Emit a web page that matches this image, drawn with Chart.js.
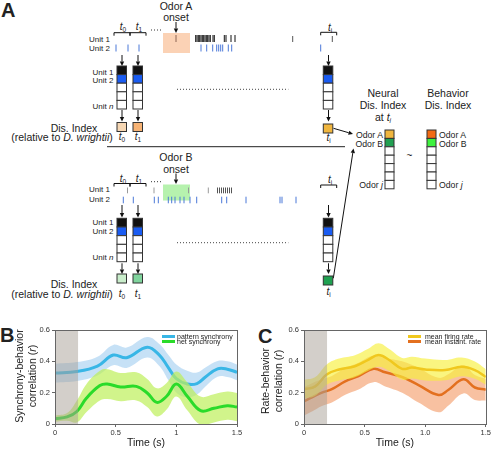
<!DOCTYPE html>
<html>
<head>
<meta charset="utf-8">
<script src="https://cdn.jsdelivr.net/npm/chart.js@4.4.0/dist/chart.umd.min.js"></script>
<style>
body { margin: 0; background: #fff; }
#page { position: relative; width: 492px; height: 450px; overflow: hidden; font-family: "Liberation Sans", Arial, sans-serif; color: #222; }
#panelA { position: absolute; left: 0; top: 0; }
canvas { position: absolute; }
.ytitle { position: absolute; width: 130px; text-align: center; font-size: 10.5px; line-height: 13px; white-space: nowrap; transform: translate(-50%, -50%) rotate(-90deg); }
.letter { position: absolute; font-weight: bold; font-size: 20px; line-height: 20px; }
.sw { position: absolute; width: 13px; height: 3px; }
.lt { position: absolute; font-size: 7px; line-height: 7px; white-space: nowrap; color: #222; }
</style>
</head>
<body>
<div id="page">
  <svg id="panelA" width="492" height="320"></svg>

  <div class="letter" style="left:1px;top:0px">A</div>
  <div class="letter" style="left:0px;top:325px">B</div>
  <div class="letter" style="left:258px;top:326px">C</div>

  <canvas id="chartB" width="245" height="130" style="left:0;top:320px"></canvas>
  <canvas id="chartC" width="243" height="130" style="left:249px;top:320px"></canvas>

  <div class="ytitle" style="left:26px;top:376px">Synchrony-behavior<br>correlation (<i>r</i>)</div>
  <div class="ytitle" style="left:272px;top:381px">Rate-behavior<br>correlation (<i>r</i>)</div>

  <div class="sw" style="left:162px;top:335px;background:#38b6e6"></div>
  <div class="lt" style="left:177px;top:333px">pattern synchrony</div>
  <div class="sw" style="left:162px;top:340.4px;background:#2adb2a"></div>
  <div class="lt" style="left:177px;top:338.4px">net synchrony</div>

  <div class="sw" style="left:408px;top:334.5px;background:#f0c81e"></div>
  <div class="lt" style="left:425px;top:332.5px">mean firing rate</div>
  <div class="sw" style="left:408px;top:340px;background:#e3701f"></div>
  <div class="lt" style="left:425px;top:338px">mean instant. rate</div>
</div>

<script>
// panel B: synchrony-behavior correlation
const patternTime = [0, 0.18, 0.35, 0.48, 0.59, 0.76, 0.86, 0.93, 1.0, 1.09, 1.17, 1.24, 1.34, 1.42, 1.5];
const patternSync = [0.325, 0.335, 0.37, 0.44, 0.423, 0.49, 0.44, 0.365, 0.29, 0.255, 0.258, 0.30, 0.352, 0.35, 0.33];
const patternErr = [0.06, 0.06, 0.06, 0.065, 0.065, 0.065, 0.07, 0.08, 0.09, 0.085, 0.07, 0.06, 0.05, 0.05, 0.05];

const netTime = [0, 0.1, 0.18, 0.26, 0.37, 0.43, 0.54, 0.67, 0.76, 0.84, 0.92, 1.0, 1.09, 1.2, 1.31, 1.42, 1.5];
const netSync = [0.034, 0.045, 0.08, 0.166, 0.245, 0.255, 0.236, 0.24, 0.198, 0.138, 0.177, 0.255, 0.177, 0.085, 0.10, 0.117, 0.108];
const netErr = [0.02, 0.025, 0.07, 0.09, 0.095, 0.095, 0.09, 0.09, 0.09, 0.09, 0.085, 0.08, 0.09, 0.09, 0.09, 0.09, 0.09];

// panel C: rate-behavior correlation
const firingTime = [0, 0.093, 0.19, 0.29, 0.42, 0.53, 0.615, 0.70, 0.81, 0.89, 1.0, 1.165, 1.30, 1.41, 1.5];
const firingRate = [0.222, 0.24, 0.317, 0.348, 0.369, 0.41, 0.44, 0.41, 0.352, 0.36, 0.348, 0.344, 0.365, 0.344, 0.30];
const firingErr = [0.06, 0.06, 0.065, 0.07, 0.07, 0.07, 0.075, 0.07, 0.07, 0.07, 0.07, 0.065, 0.06, 0.055, 0.05];

const instantTime = [0, 0.066, 0.148, 0.23, 0.34, 0.45, 0.574, 0.67, 0.81, 0.945, 1.11, 1.19, 1.315, 1.41, 1.5];
const instantRate = [0.145, 0.17, 0.20, 0.222, 0.272, 0.306, 0.352, 0.33, 0.30, 0.248, 0.185, 0.217, 0.285, 0.233, 0.219];
const instantErr = [0.09, 0.09, 0.085, 0.085, 0.085, 0.085, 0.085, 0.09, 0.1, 0.11, 0.11, 0.1, 0.09, 0.08, 0.07];

const baselineWindow = [0, 0.19];
const corrTickValues = [0, 0.2, 0.4, 0.6];
const corrTicks = ["0", "0.2", "0.4", "0.6"];
const timeTickValues = [0, 0.5, 1, 1.5];
const timeTicksB = ["0", "0.5", "1", "1.5"];
const timeTicksC = ["0", "0.5", "1.0", "1.5"];

const FONT = '"Liberation Sans", Arial, sans-serif';

function pts(t, v, e, sign) {
    return t.map((x, i) => ({ x: x, y: v[i] + (e ? sign * e[i] : 0) }));
}

function meanLine(t, v, color, w) {
    return { data: pts(t, v), borderColor: color, borderWidth: w, pointRadius: 0, tension: 0.4, fill: false };
}

function band(t, v, e, color) {
    return [
        { data: pts(t, v, e, 1), borderWidth: 0, pointRadius: 0, tension: 0.4, fill: "+1", backgroundColor: color },
        { data: pts(t, v, e, -1), borderWidth: 0, pointRadius: 0, tension: 0.4, fill: false }
    ];
}

const shadeAndFrame = {
    id: "shadeAndFrame",
    afterDatasetsDraw(chart) {
        const { ctx, chartArea: a, scales } = chart;
        const x0 = scales.x.getPixelForValue(baselineWindow[0]);
        const x1 = scales.x.getPixelForValue(baselineWindow[1]);
        ctx.save();
        ctx.fillStyle = "rgba(168,160,150,0.5)";
        ctx.fillRect(x0, a.top, x1 - x0, a.bottom - a.top);
        ctx.strokeStyle = "#666";
        ctx.lineWidth = 1;
        ctx.strokeRect(Math.round(a.left) + 0.5, Math.round(a.top) + 0.5, Math.round(a.right - a.left), Math.round(a.bottom - a.top));
        ctx.restore();
    }
};

function makeChart(id, datasets, timeLabels, padRight) {
    return new Chart(document.getElementById(id), {
        type: "line",
        data: { datasets },
        plugins: [shadeAndFrame],
        options: {
            responsive: false,
            animation: false,
            layout: { padding: { top: 10, right: padRight, left: 0, bottom: 0 } },
            plugins: { legend: { display: false }, tooltip: { enabled: false } },
            scales: {
                x: {
                    type: "linear", min: 0, max: 1.5,
                    afterBuildTicks: s => { s.ticks = timeTickValues.map(v => ({ value: v })); },
                    ticks: { maxRotation: 0, padding: 1, color: "#333", font: { size: 7.5, family: FONT },
                        callback: (v, i) => timeLabels[i] },
                    grid: { drawOnChartArea: false, tickLength: 3, color: "#666" },
                    border: { display: false },
                    title: { display: true, text: "Time (s)", color: "#222", font: { size: 10.5, family: FONT }, padding: { top: 0, bottom: 1 } },
                    afterFit: s => { s.height = 26; }
                },
                y: {
                    min: 0, max: 0.6,
                    afterBuildTicks: s => { s.ticks = corrTickValues.map(v => ({ value: v })); },
                    ticks: { padding: 2, color: "#333", font: { size: 7.5, family: FONT },
                        callback: (v, i) => corrTicks[i] },
                    grid: { drawOnChartArea: false, tickLength: 3, color: "#666" },
                    border: { display: false },
                    afterFit: s => { s.width = 55; }
                }
            }
        }
    });
}

makeChart("chartB", [
    meanLine(netTime, netSync, "#2adb2a", 3),
    ...band(netTime, netSync, netErr, "rgba(190,240,90,0.7)"),
    meanLine(patternTime, patternSync, "#38b6e6", 3),
    ...band(patternTime, patternSync, patternErr, "rgba(160,205,240,0.6)")
], timeTicksB, 8);

makeChart("chartC", [
    meanLine(firingTime, firingRate, "#f0c81e", 2.5),
    ...band(firingTime, firingRate, firingErr, "rgba(248,240,60,0.65)"),
    meanLine(instantTime, instantRate, "#e3701f", 2.5),
    ...band(instantTime, instantRate, instantErr, "rgba(245,160,110,0.65)")
], timeTicksC, 6);

// ---- panel A schematic ----
let s = "";
const ln = (x1, y1, x2, y2, c = "#111", w = 1, extra = "") =>
    s += `<line x1="${x1}" y1="${y1}" x2="${x2}" y2="${y2}" stroke="${c}" stroke-width="${w}" ${extra}/>`;
const tx = (x, y, content, size, anchor = "middle") =>
    s += `<text x="${x}" y="${y}" font-size="${size}" text-anchor="${anchor}" fill="#222">${content}</text>`;
const rect = (x, y, w, h, fill, stroke = "none") =>
    s += `<rect x="${x}" y="${y}" width="${w}" height="${h}" fill="${fill}" stroke="${stroke}" stroke-width="1"/>`;
const arrow = (x1, y1, x2, y2) => {
    const a = Math.atan2(y2 - y1, x2 - x1), L = 4.5, W = 2.2;
    const bx = x2 - L * Math.cos(a), by = y2 - L * Math.sin(a);
    ln(x1, y1, bx, by);
    s += `<polygon points="${x2},${y2} ${bx - W * Math.sin(a)},${by + W * Math.cos(a)} ${bx + W * Math.sin(a)},${by - W * Math.cos(a)}" fill="#111"/>`;
};
const spikes = (xs, y1, y2, c) => xs.forEach(x => ln(x, y1, x, y2, c, 1));
const bracket = (x1, x2, y) => s += `<path d="M${x1},${y + 3}V${y}H${x2}V${y + 3}" fill="none" stroke="#111" stroke-width="1"/>`;
const column = (x, y, w, h, fills) => fills.forEach((f, i) => rect(x, y + i * h, w, h, f, "#333"));
const tsub = idx => `<tspan font-style="italic">t</tspan><tspan font-size="6.5" dy="2">${idx}</tspan>`;
const dotted = 'stroke-dasharray="1 2"';
const unitFills = ["#111", "#1a5cf2", "#fff", "#fff", "#fff"];

const topUnit1 = [195.7, 197, 198.3, 199.7, 201, 202.3, 203.7, 205, 206.3, 207.7, 209, 210.3, 213, 214.3, 224.3, 226, 231, 235];
const topUnit2 = [116, 128, 139, 201, 206.7, 212.7, 216.7, 218.7, 220.7, 222.7, 228.3, 231.7, 320.7];
const botUnit1 = [127.5, 154, 188.5, 208.3];
const botBurst = [217.5, 219.5, 221.5, 223.5, 225.5, 227.5, 229.5, 231.5];
const botUnit2 = [123.3, 133.3, 154.3, 158.3, 168.3, 171.7, 175, 180, 184, 190, 196.7, 221.7, 226.7, 246, 280, 282, 296];

// top: odor A
tx(176, 10, "Odor A", 10.5); tx(176, 20.7, "onset", 10.5);
arrow(176, 22, 176, 33);
bracket(114, 130, 32.7); bracket(130, 146, 32.7);
tx(123, 30, tsub("0"), 10); tx(139, 30, tsub("1"), 10);
ln(151, 30, 163, 30, "#333", 1, dotted);
tx(110, 41.5, "Unit 1", 8, "end"); tx(110, 51, "Unit 2", 8, "end");
rect(163, 33, 27, 20, "#fbd2b5");
spikes([176], 35, 42, "#8c6552");
spikes(topUnit1, 35, 42, "#111");
spikes([292.7, 332.3], 36, 42, "#555");
spikes(topUnit2, 44.5, 51.5, "#4a78d8");
bracket(320.7, 336.7, 32.3); tx(330, 30.7, tsub("i"), 10);
[122, 138, 328.5].forEach(x => { arrow(x, 55, x, 66); arrow(x, 110, x, 121.5); });
[117, 133, 323.3].forEach(x => column(x, 66, 9.5, 8.6, unitFills));
tx(113.5, 75, "Unit 1", 8, "end"); tx(113.5, 83.3, "Unit 2", 8, "end");
tx(113.5, 109, 'Unit <tspan font-style="italic">n</tspan>', 8, "end");
ln(177, 89.3, 288.3, 89.3, "#444", 1, dotted);
rect(117, 122.5, 9.5, 9, "#f6d7b4", "#333");
rect(133, 122.5, 9.5, 9, "#f7b375", "#333");
rect(323.3, 124, 9.5, 9, "#f0b63f", "#333");
tx(122, 140, tsub("0"), 10); tx(138, 140, tsub("1"), 10); tx(328.5, 141, tsub("i"), 10);
tx(74, 132, "Dis. Index", 10.5);
tx(62, 140.5, '(relative to <tspan font-style="italic">D. wrightii</tspan>)', 10.5);
ln(107, 146.7, 345, 146.7, "#222", 1);

// right: neural vs behavior index
tx(383, 96.7, "Neural", 10.5); tx(383, 109.3, "Dis. Index", 10.5);
tx(383, 120.5, 'at <tspan font-style="italic">t</tspan><tspan font-size="6.5" dy="2" font-style="italic">i</tspan>', 10.5);
tx(448, 96.7, "Behavior", 10.5); tx(448, 109.3, "Dis. Index", 10.5);
arrow(333.5, 128.3, 353, 134);
column(385, 130, 9, 8.4, ["#f0b63f", "#22a052", "#fff", "#fff", "#fff", "#fff", "#fff"]);
column(427, 130, 9, 8.4, ["#f26b14", "#3ef23e", "#fff", "#fff", "#fff", "#fff", "#fff"]);
tx(383, 138.3, "Odor A", 8.7, "end"); tx(383, 147.3, "Odor B", 8.7, "end");
tx(383, 188, 'Odor <tspan font-style="italic">j</tspan>', 8.7, "end");
tx(439, 138.3, "Odor A", 8.7, "start"); tx(439, 147.3, "Odor B", 8.7, "start");
tx(439, 188, 'Odor <tspan font-style="italic">j</tspan>', 8.7, "start");
tx(409.5, 159, "~", 10);
arrow(333.3, 278.3, 353.5, 148.5);

// bottom: odor B
tx(176, 161, "Odor B", 10.5); tx(176, 172.5, "onset", 10.5);
arrow(176, 173.5, 176, 184);
bracket(114, 130, 183.5); bracket(130, 146, 183.5);
tx(123, 182, tsub("0"), 10); tx(139, 182, tsub("1"), 10);
ln(151, 181.7, 163, 181.7, "#333", 1, dotted);
tx(110, 192.3, "Unit 1", 8, "end"); tx(110, 201.7, "Unit 2", 8, "end");
rect(163, 184.5, 27, 16, "#b6f2ae");
spikes(botUnit1, 187.5, 193.3, "#999");
spikes(botBurst, 187.5, 193.3, "#555");
spikes(botUnit2, 196.7, 203.3, "#4a78d8");
bracket(320.7, 336.7, 185); tx(330, 182.7, tsub("i"), 10);
[122, 138, 328.5].forEach(x => { arrow(x, 205, x, 217.5); arrow(x, 263.3, x, 274); });
[117, 133, 323.3].forEach(x => column(x, 218.3, 9.5, 8.68, unitFills));
tx(113.5, 225, "Unit 1", 8, "end"); tx(113.5, 234, "Unit 2", 8, "end");
tx(113.5, 260, 'Unit <tspan font-style="italic">n</tspan>', 8, "end");
ln(177, 242.7, 288.3, 242.7, "#444", 1, dotted);
rect(117, 274, 9.5, 9, "#c9edcb", "#333");
rect(133, 274, 9.5, 9, "#80d49d", "#333");
rect(323.3, 276, 9.5, 9, "#1fa050", "#333");
tx(122, 297, tsub("0"), 10); tx(138, 297, tsub("1"), 10); tx(328.5, 295, tsub("i"), 10);
tx(74, 288.3, "Dis. Index", 10.5);
tx(62, 298, '(relative to <tspan font-style="italic">D. wrightii</tspan>)', 10.5);

const svgEl = document.getElementById("panelA");
svgEl.setAttribute("font-family", FONT);
svgEl.innerHTML = s;
</script>
</body>
</html>
